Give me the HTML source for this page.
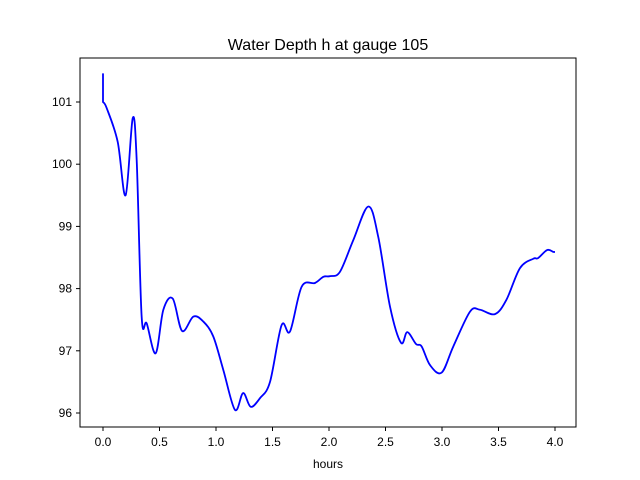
<!DOCTYPE html>
<html><head><meta charset="utf-8"><style>
body{margin:0;background:#fff;}
svg{display:block;font-family:"Liberation Sans","DejaVu Sans",sans-serif;}
</style></head><body>
<svg id="chart" width="640" height="480" xmlns="http://www.w3.org/2000/svg">
<rect width="640" height="480" fill="#fff"/>
<text x="328" y="50" font-size="16" text-anchor="middle">Water Depth h at gauge 105</text>
<g id="plot"></g>
<rect x="80" y="58" width="496" height="369" fill="none" stroke="#000" stroke-width="1"/>
<text x="328" y="468" font-size="12" text-anchor="middle">hours</text>
</svg>
<script>
const times=[0,0,0.033,0.13,0.2,0.263,0.298,0.342,0.387,0.466,0.534,0.617,0.70,0.80,0.888,0.976,1.065,1.168,1.24,1.307,1.39,1.478,1.58,1.655,1.758,1.876,1.95,2.01,2.097,2.215,2.348,2.436,2.54,2.637,2.693,2.77,2.82,2.894,2.997,3.10,3.248,3.336,3.469,3.57,3.69,3.808,3.85,3.93,3.985,4.0];
const depths=[101.46,101.0,100.9,100.36,99.5,100.74,100.07,97.55,97.44,96.96,97.66,97.84,97.32,97.55,97.47,97.23,96.69,96.05,96.32,96.10,96.24,96.5,97.41,97.31,98.03,98.09,98.19,98.2,98.27,98.78,99.32,98.83,97.71,97.13,97.30,97.11,97.07,96.77,96.65,97.07,97.63,97.66,97.59,97.82,98.33,98.48,98.49,98.62,98.59,98.59];
const xTicks=[0,0.5,1,1.5,2,2.5,3,3.5,4];
const xTickLabels=["0.0","0.5","1.0","1.5","2.0","2.5","3.0","3.5","4.0"];
const yTicks=[96,97,98,99,100,101];
const yTickLabels=["96","97","98","99","100","101"];
const NS="http://www.w3.org/2000/svg";
const X=t=>103+t*113;
const Y=h=>102+(101-h)*62.2;
const g=document.getElementById('plot');
function mk(tag,attrs){const e=document.createElementNS(NS,tag);for(const k in attrs)e.setAttribute(k,attrs[k]);return e;}
xTicks.forEach((t,i)=>{
 const l=mk('line',{x1:X(t),x2:X(t),y1:427,y2:431,stroke:'#000'});
 
 
 g.appendChild(l);
 const tx=mk('text',{x:X(t),y:446,'font-size':12,'text-anchor':'middle'});
 tx.textContent=xTickLabels[i];
 
 
 g.appendChild(tx);
});
yTicks.forEach((v,i)=>{
 const l=mk('line',{x1:76,x2:80,y1:Y(v),y2:Y(v),stroke:'#000'});
 
 
 g.appendChild(l);
 const tx=mk('text',{x:72,y:Y(v)+4,'font-size':12,'text-anchor':'end'});
 tx.textContent=yTickLabels[i];
 
 
 g.appendChild(tx);
});
const P=times.map((t,i)=>[X(t),Y(depths[i])]);
let d=`M${P[0][0]},${P[0][1]} L${P[1][0]},${P[1][1]}`;
for(let i=1;i<P.length-1;i++){
 const p0=P[Math.max(1,i-1)],p1=P[i],p2=P[i+1],p3=P[Math.min(P.length-1,i+2)];
 const c1=[p1[0]+(p2[0]-p0[0])/6,p1[1]+(p2[1]-p0[1])/6];
 const c2=[p2[0]-(p3[0]-p1[0])/6,p2[1]-(p3[1]-p1[1])/6];
 d+=` C${c1[0]},${c1[1]} ${c2[0]},${c2[1]} ${p2[0]},${p2[1]}`;
}
const path=mk('path',{d:d,fill:'none',stroke:'#0000ff','stroke-width':1.8,'stroke-linejoin':'round'});


g.appendChild(path);
</script>
</body></html>
